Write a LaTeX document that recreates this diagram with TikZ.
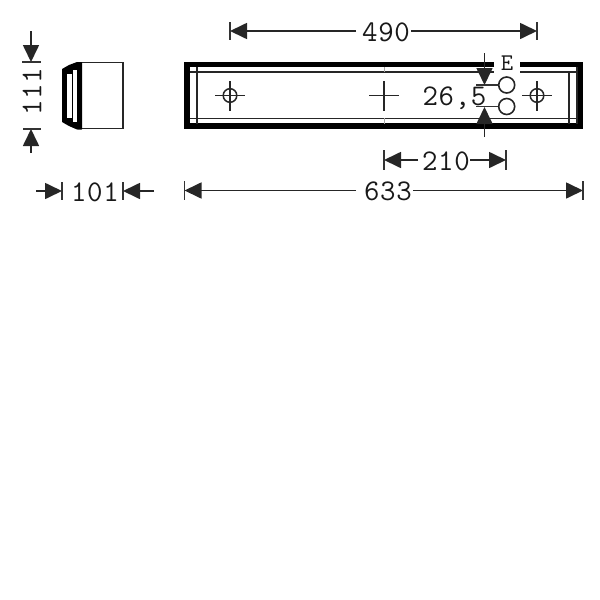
\documentclass[tikz,border=0pt]{standalone}
\usepackage{fontspec}
\setmonofont[LetterSpace=2]{Latin Modern Mono}
\usetikzlibrary{arrows.meta}
\tikzset{
  thin line/.style={line width=1.5pt,draw=black!85},
  wall/.style={line width=5.6pt,draw=black},
  dim/.style={line width=1.7pt,draw=black!85,-{Triangle[length=17pt,width=16pt]}},
  ext/.style={line width=1.7pt,draw=black!80},
  label/.style={inner sep=1.5pt,text=black!90,font=\ttfamily\fontsize{30}{30}\selectfont},
  smalllabel/.style={inner sep=0pt,text=black!90,font=\ttfamily\fontsize{24}{24}\selectfont},
}
\begin{document}
\begin{tikzpicture}[x=1pt,y=-1pt]
\useasboundingbox (0,0) rectangle (600,600);
% side view
\draw[thin line,line width=1.6pt] (77,62.5) -- (123,62.5) -- (123,128.5) -- (77,128.5);
\fill[black,rounded corners=0.5pt] (77,62) -- (69,65) -- (62,69) -- (62,122) -- (69,126) -- (77,129.5) -- (82,129.5) -- (82,62) -- cycle;
\fill[white] (67,73.5) rectangle (72,118);
\fill[white] (73,69.5) rectangle (76.5,121.5);
% front view
\draw[wall] (494,64.5) -- (187.2,64.5) -- (187.2,126) -- (580.3,126) -- (580.3,64.5) -- (520,64.5);
\draw[thin line] (190,72) -- (494,72);
\draw[thin line] (520,72) -- (578,72);
\draw[thin line] (190,118.3) -- (578,118.3);
\draw[thin line] (197,67) -- (197,124);
\draw[thin line] (569,72) -- (569,124);
\draw[thin line] (577,67) -- (577,124);
\draw[line width=1pt,draw=black!35] (384,67) -- (384,72) (384,118) -- (384,124);
% holes and crosshairs
\foreach \n/\x in {a/230,b/537}{
  \coordinate (\n) at (\x,95.5);
  \draw[thin line] (\n) circle (6.8pt);
  \draw[thin line] ([xshift=-15pt]\n) -- ([xshift=15pt]\n) ([yshift=-15pt]\n) -- ([yshift=15pt]\n);
}
\coordinate (c) at (384,95.5);
\draw[thin line] ([xshift=-15pt]c) -- ([xshift=15pt]c) ([yshift=-15pt]c) -- ([yshift=15pt]c);
\node[circle,thin line,line width=1.6pt,minimum size=16pt,inner sep=0pt] (h1) at (506.7,85) {};
\node[circle,thin line,line width=1.6pt,minimum size=16pt,inner sep=0pt] (h2) at (506.7,106.5) {};
\coordinate (t1) at (476,85);
\coordinate (t2) at (476,106.5);
\draw[ext] (t1) -- (h1.west);
\draw[ext] (t2) -- (h2.west);
\node[smalllabel] (e) at (507,63) {E};
\node[label] (v265) at (454.5,98) {26,5};
% 26,5 arrows
\coordinate (p1) at (484.5,53);
\coordinate (p1t) at (484.5,85);
\coordinate (p2) at (484.5,137);
\coordinate (p2t) at (484.5,107);
\draw[dim] (p1) -- (p1t);
\draw[dim] (p2) -- (p2t);
% 490
\coordinate (d1a) at (230,31); \coordinate (d1b) at (537,31);
\node[label] (v490) at (386,32) {490};
\draw[dim] (356,31) -- (d1a);
\draw[dim] (411,31) -- (d1b);
\draw[ext] (230,22) -- (230,40);
\draw[ext] (537,22) -- (537,40);
% 633
\coordinate (d2a) at (184.5,190.5); \coordinate (d2b) at (583,190.5);
\node[label] (v633) at (388,191.5) {633};
\draw[dim] (356,190.5) -- (d2a);
\draw[dim] (413,190.5) -- (d2b);
\draw[ext] (184.5,181) -- (184.5,200);
\draw[ext] (583,181) -- (583,200);
% 210
\coordinate (d3a) at (384,160); \coordinate (d3b) at (506,160);
\node[label] (v210) at (446,161) {210};
\draw[dim] (418,160) -- (d3a);
\draw[dim] (470,160) -- (d3b);
\draw[ext] (384,150) -- (384,170);
\draw[ext] (506,150) -- (506,170);
% 101
\coordinate (d4a) at (62,191); \coordinate (d4b) at (123,191);
\coordinate (d4c) at (36,191); \coordinate (d4d) at (154,191);
\node[label] (v101) at (95,192) {101};
\draw[dim] (d4c) -- (d4a);
\draw[dim] (d4d) -- (d4b);
\draw[ext] (62,182) -- (62,200);
\draw[ext] (123,182) -- (123,200);
% 111
\coordinate (d5a) at (31,62); \coordinate (d5b) at (31,129);
\coordinate (d5c) at (31,31); \coordinate (d5d) at (31,153);
\node[label,rotate=90] (v111) at (32,92) {111};
\draw[dim] (d5c) -- (d5a);
\draw[dim] (d5d) -- (d5b);
\draw[ext] (22,62) -- (41,62);
\draw[ext] (23,129) -- (41,129);
\end{tikzpicture}
\end{document}
